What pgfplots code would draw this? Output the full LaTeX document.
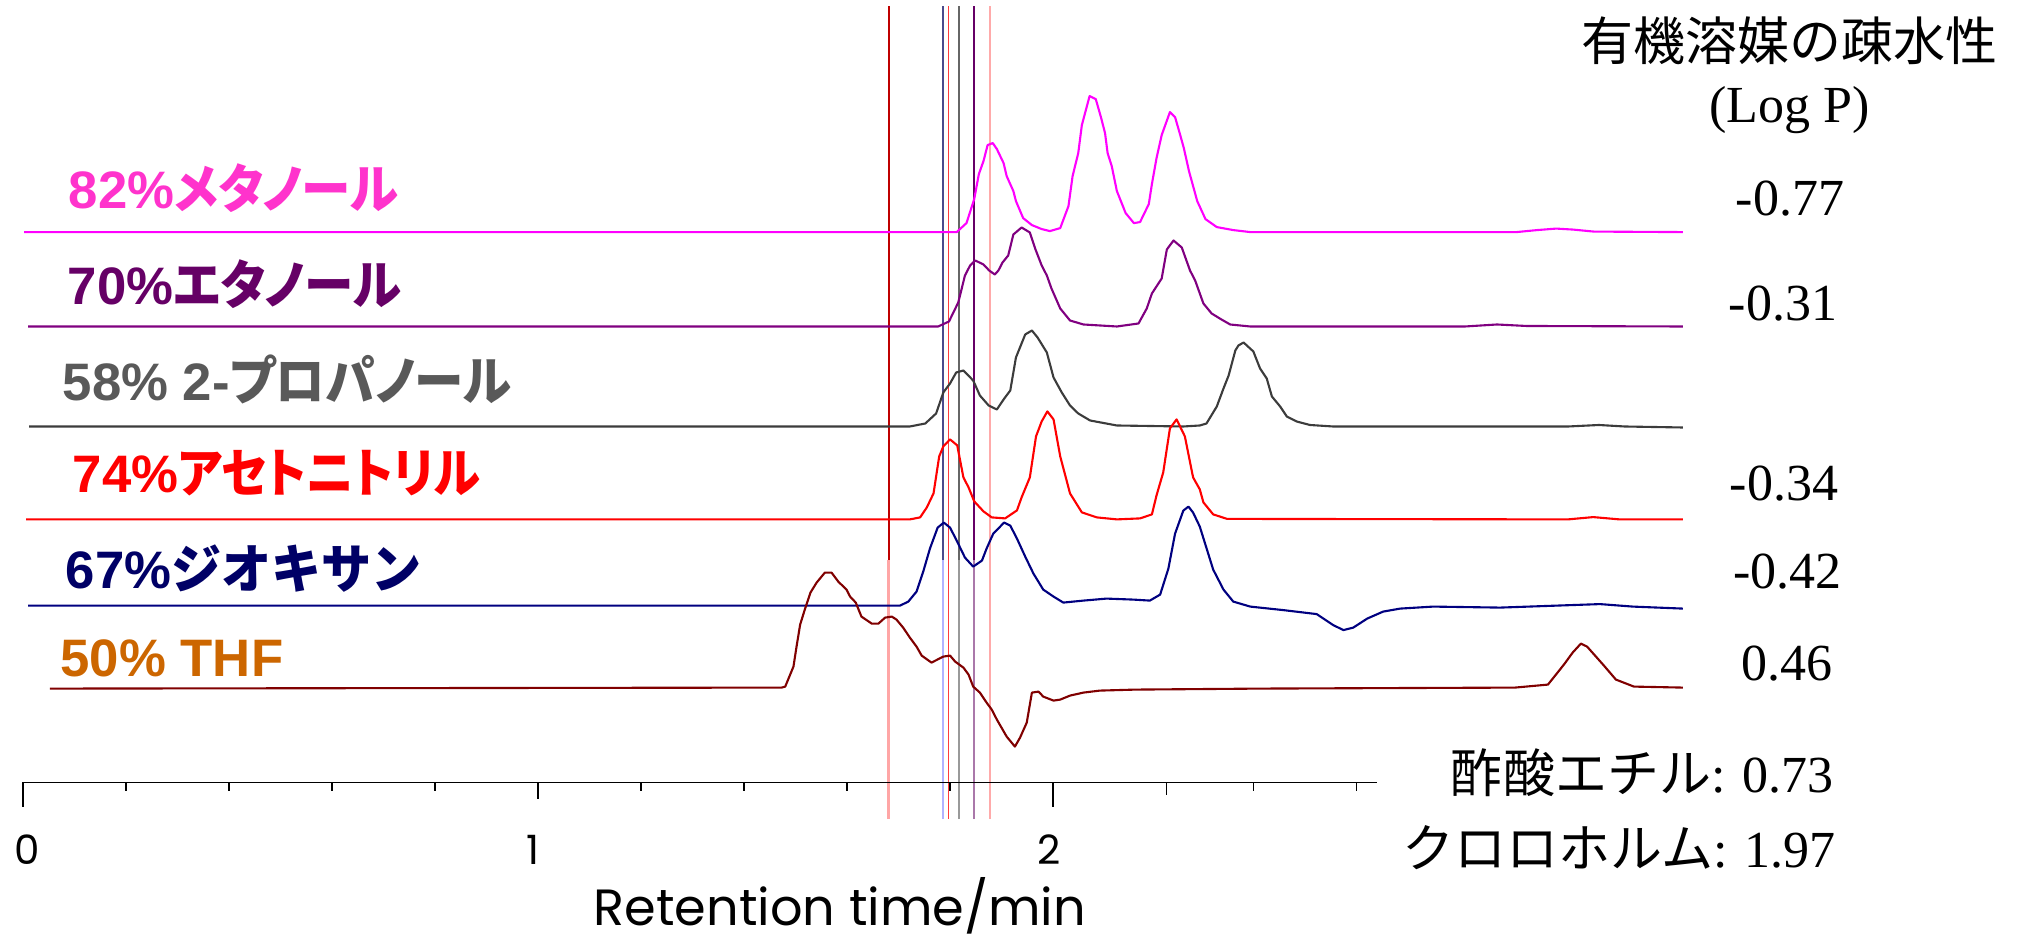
\documentclass[border=0pt]{standalone}
\usepackage{fontspec}
\usepackage{pgfplots}
\usepackage{pgfplotstable}
\pgfplotsset{compat=1.18}
\setmainfont{Liberation Serif}
\newfontfamily\jp{Noto Sans CJK JP}
\newfontfamily\jpp{Noto Sans CJK JP}[RawFeature=+palt, FakeStretch=0.94]
\newfontfamily\jpn{Noto Sans CJK JP}[RawFeature=+palt, FakeStretch=0.90]
\newfontfamily\jps{Noto Sans CJK JP}[FakeStretch=0.95]
\newfontfamily\ar{Liberation Sans}
\newfontfamily\pop{Poppins}

\definecolor{cMeth}{HTML}{FF00FF}
\definecolor{cEth}{HTML}{800080}
\definecolor{cProp}{HTML}{3C3C3C}
\definecolor{cAcn}{HTML}{FF0000}
\definecolor{cDiox}{HTML}{000080}
\definecolor{cThf}{HTML}{800000}
\definecolor{lMeth}{HTML}{FF33CC}
\definecolor{lEth}{HTML}{660066}
\definecolor{lProp}{HTML}{595959}
\definecolor{lAcn}{HTML}{FF0000}
\definecolor{lDiox}{HTML}{000066}
\definecolor{lThf}{HTML}{CC6600}

% retention time (min) vs. detector signal (relative, baseline = 0)
\pgfplotstableread{
t h
0.002 0
1.000 0
1.813 0
1.832 9
1.847 33
1.856 58
1.865 71
1.873 87
1.883 89
1.891 83
1.904 69
1.910 56
1.923 41
1.928 31
1.942 14
1.959 7
1.978 3
1.994 1
2.014 4
2.030 26
2.038 56
2.049 79
2.056 107
2.071 136
2.083 133
2.093 115
2.101 99
2.106 79
2.114 66
2.124 41
2.141 19
2.157 9
2.169 10
2.186 28
2.192 48
2.201 74
2.211 97
2.227 120
2.237 115
2.247 97
2.254 84
2.264 61
2.280 31
2.296 13
2.318 5
2.350 2
2.383 0
2.900 0
2.940 2
2.977 3.5
3.010 2.5
3.050 0.5
3.223 0
}\methanol

\pgfplotstableread{
t h
0.010 0
1.777 0
1.798 5
1.816 24
1.829 51
1.839 61
1.849 66
1.865 62
1.876 56
1.887 52
1.894 56
1.902 64
1.913 71
1.923 92
1.939 99
1.955 94
1.966 77
1.978 61
1.988 51
1.997 38
2.014 18
2.033 6
2.059 2
2.124 0
2.166 3
2.182 18
2.192 33
2.211 48
2.221 77
2.234 86
2.250 79
2.266 56
2.276 46
2.292 23
2.308 13
2.327 7
2.344 2
2.383 0
2.800 0
2.862 2
2.920 0.5
3.223 0
}\ethanol

\pgfplotstableread{
t h
0.012 0
1.722 0
1.752 3
1.773 13
1.787 34
1.800 43
1.812 54
1.826 56
1.845 46
1.858 31
1.875 21
1.891 17
1.904 27
1.917 36
1.928 69
1.946 92
1.959 96
1.970 89
1.988 74
2.001 49
2.017 34
2.033 21
2.049 13
2.072 6
2.124 1
2.253 0
2.285 1
2.298 3
2.318 20
2.331 38
2.341 51
2.354 76
2.360 81
2.370 84
2.389 75
2.402 58
2.415 48
2.425 30
2.441 20
2.454 10
2.473 5
2.499 1.5
2.544 0
3.000 0
3.060 1.5
3.110 0
3.223 -1
}\propanol

\pgfplotstableread{
t h
0.006 0
1.722 0
1.742 2
1.755 12
1.768 26
1.779 63
1.787 73
1.800 80
1.814 74
1.826 42
1.836 32
1.847 18
1.865 8
1.881 2
1.907 1
1.930 9
1.939 22
1.955 42
1.967 83
1.978 98
1.989 108
2.001 100
2.014 63
2.033 26
2.056 7
2.085 2
2.124 0
2.169 1
2.192 5
2.201 24
2.214 47
2.227 91
2.240 100
2.256 83
2.272 42
2.285 30
2.292 17
2.311 5
2.338 0.5
3.000 0
3.049 2.3
3.100 0
3.223 0
}\acetonitrile

\pgfplotstableread{
t h
0.010 0
1.703 0
1.719 4
1.735 14
1.748 34
1.761 57
1.776 78
1.788 83
1.800 78
1.813 65
1.829 48
1.845 39
1.862 45
1.871 57
1.884 72
1.905 83
1.917 80
1.930 67
1.946 49
1.962 32
1.981 16
2.001 9
2.020 3
2.059 5
2.104 7
2.156 6
2.188 5
2.208 11
2.224 37
2.237 72
2.253 95
2.263 99
2.272 93
2.285 79
2.311 36
2.331 16
2.350 4
2.383 -1
2.447 -4.5
2.512 -8.5
2.544 -19.5
2.564 -24.5
2.583 -22
2.610 -13
2.641 -6
2.674 -3
2.738 -1
2.868 -2
3.062 1.5
3.126 -1
3.223 -3
}\dioxane

\pgfplotstableread{
t h
0.052 0
1.473 1
1.480 2
1.496 22
1.502 42
1.509 64
1.518 79
1.529 96
1.541 106
1.557 116
1.570 116
1.583 107
1.599 99
1.606 92
1.617 86
1.628 72
1.648 65
1.661 65
1.674 71
1.687 72
1.696 69
1.709 61
1.722 51
1.735 42
1.745 33
1.764 26
1.787 32
1.800 33
1.810 27
1.826 21
1.836 14
1.845 2
1.858 -4
1.871 -14
1.881 -21
1.891 -31
1.910 -48
1.926 -58
1.936 -49
1.949 -34
1.959 -4
1.972 -3
1.981 -8
2.001 -12
2.014 -11
2.033 -7
2.059 -4
2.091 -2
2.160 -1
2.400 0
2.897 1
2.961 4
2.992 24
3.009 36
3.025 45
3.037 42
3.068 24
3.093 9
3.128 2
3.223 1
}\thf

\begin{document}
\begin{tikzpicture}
\begin{axis}[
  name=main,
  scale only axis, width=20.22cm, height=9.41cm,
  xmin=-0.04466, xmax=3.88155, ymin=0, ymax=941,
  axis lines=none, xtick=\empty, ytick=\empty, clip=false,
  every axis plot/.append style={no marks, line join=round},
]
% marker lines (dead times)
\addplot[color=red!25!pink!80!white, line width=0.9pt] coordinates {(1.681,122) (1.681,381)};
\addplot[color=red!75!black, line width=0.5pt] coordinates {(1.681,381) (1.681,935)};
\addplot[color=blue!30!white, line width=0.5pt] coordinates {(1.787,122) (1.787,381)};
\addplot[color={rgb,255:red,75;green,75;blue,140}, line width=0.5pt] coordinates {(1.787,381) (1.787,935)};
\addplot[color={rgb,255:red,255;green,60;blue,60}, line width=0.5pt] coordinates {(1.797,122) (1.797,935)};
\addplot[color=black!40, line width=0.5pt] coordinates {(1.818,122) (1.818,381)};
\addplot[color=black!60, line width=0.5pt] coordinates {(1.818,381) (1.818,935)};
\addplot[color={rgb,255:red,170;green,120;blue,170}, line width=0.5pt] coordinates {(1.847,122) (1.847,381)};
\addplot[color={rgb,255:red,102;green,0;blue,102}, line width=0.5pt] coordinates {(1.847,381) (1.847,935)};
\addplot[color={rgb,255:red,255;green,170;blue,170}, line width=0.6pt] coordinates {(1.878,122) (1.878,935)};

% chromatograms (offset baselines)
\addplot[color=cMeth, line width=0.6pt] table[x=t, y expr=\thisrow{h}+708.9] {\methanol};
\addplot[color=cEth, line width=0.6pt] table[x=t, y expr=\thisrow{h}+614.5] {\ethanol};
\addplot[color=cProp, line width=0.6pt] table[x=t, y expr=\thisrow{h}+514.5] {\propanol};
\addplot[color=cAcn, line width=0.6pt] table[x=t, y expr=\thisrow{h}+421.6] {\acetonitrile};
\addplot[color=cDiox, line width=0.6pt] table[x=t, y expr=\thisrow{h}+335.4] {\dioxane};
\addplot[color=cThf, line width=0.6pt] table[x=t, y expr=\thisrow{h}+252.4] {\thf};

% x axis
\draw[line width=0.45pt] (axis cs:0,158.7) -- (axis cs:2.629,158.7);
\draw[line width=0.45pt] (axis cs:0,158.7) -- (axis cs:0,133.7);
\draw[line width=0.45pt] (axis cs:1,158.7) -- (axis cs:1,141.7);
\draw[line width=0.45pt] (axis cs:2,158.7) -- (axis cs:2,133.7);
\draw[line width=0.35pt] (axis cs:0.2,158.7) -- (axis cs:0.2,149.7);
\draw[line width=0.35pt] (axis cs:0.4,158.7) -- (axis cs:0.4,149.7);
\draw[line width=0.35pt] (axis cs:0.6,158.7) -- (axis cs:0.6,149.7);
\draw[line width=0.35pt] (axis cs:0.8,158.7) -- (axis cs:0.8,149.7);
\draw[line width=0.35pt] (axis cs:1.2,158.7) -- (axis cs:1.2,149.7);
\draw[line width=0.35pt] (axis cs:1.4,158.7) -- (axis cs:1.4,149.7);
\draw[line width=0.35pt] (axis cs:1.6,158.7) -- (axis cs:1.6,149.7);
\draw[line width=0.35pt] (axis cs:1.8,158.7) -- (axis cs:1.8,149.7);
\draw[line width=0.35pt] (axis cs:2.22,158.7) -- (axis cs:2.22,145.7);
\draw[line width=0.35pt] (axis cs:2.39,158.7) -- (axis cs:2.39,149.7);
\draw[line width=0.35pt] (axis cs:2.59,158.7) -- (axis cs:2.59,149.7);

\node[inner sep=0pt, font=\pop\fontsize{11.5}{13}\selectfont] at (axis description cs:0.01335,0.0967) {0};
\node[inner sep=0pt, font=\pop\fontsize{11.5}{13}\selectfont] at (axis description cs:0.2636,0.0967) {1};
\node[inner sep=0pt, font=\pop\fontsize{11.5}{13}\selectfont] at (axis description cs:0.5188,0.0967) {2};
\node[inner sep=0pt, anchor=base, font=\pop\fontsize{14.5}{17}\selectfont] at (axis description cs:0.4154,0.0165) {Retention time/min};

% trace labels
\node[inner sep=0pt, anchor=base west, text=lMeth, font=\fontsize{15}{17}\selectfont\bfseries] at (axis description cs:0.03363,0.7779) {\ar 82\%\jpp メタノール};
\node[inner sep=0pt, anchor=base west, text=lEth, font=\fontsize{15}{17}\selectfont\bfseries] at (axis description cs:0.03314,0.6759) {\ar 70\%\jpp エタノール};
\node[inner sep=0pt, anchor=base west, text=lProp, font=\fontsize{15}{17}\selectfont\bfseries] at (axis description cs:0.03066,0.5749) {\ar 58\% 2-\jpp プロパノール};
\node[inner sep=0pt, anchor=base west, text=lAcn, font=\fontsize{15}{17}\selectfont\bfseries] at (axis description cs:0.03561,0.4761) {\ar 74\%\jpn アセトニトリル};
\node[inner sep=0pt, anchor=base west, text=lDiox, font=\fontsize{15}{17}\selectfont\bfseries] at (axis description cs:0.03215,0.3751) {\ar 67\%\jps ジオキサン};
\node[inner sep=0pt, anchor=base west, text=lThf, font=\fontsize{15}{17}\selectfont\bfseries] at (axis description cs:0.02967,0.2806) {\ar 50\% THF};

% right column: hydrophobicity (log P)
\node[inner sep=0pt, font=\jp\fontsize{14.8}{17}\selectfont] at (axis description cs:0.8848,0.957) {有機溶媒の疎水性};
\node[inner sep=0pt, anchor=base, font=\fontsize{14.8}{17}\selectfont] at (axis description cs:0.8850,0.8693) {(Log P)};
\node[inner sep=0pt, anchor=base, font=\fontsize{14.8}{17}\selectfont] at (axis description cs:0.8853,0.7705) {-0.77};
\node[inner sep=0pt, anchor=base, font=\fontsize{14.8}{17}\selectfont] at (axis description cs:0.8818,0.6589) {-0.31};
\node[inner sep=0pt, anchor=base, font=\fontsize{14.8}{17}\selectfont] at (axis description cs:0.8823,0.4676) {-0.34};
\node[inner sep=0pt, anchor=base, font=\fontsize{14.8}{17}\selectfont] at (axis description cs:0.8840,0.3751) {-0.42};
\node[inner sep=0pt, anchor=base, font=\fontsize{14.8}{17}\selectfont] at (axis description cs:0.8838,0.2763) {0.46};
\node[inner sep=0pt, anchor=base east, font=\fontsize{14.8}{17}\selectfont] at (axis description cs:0.9073,0.1583) {{\jp 酢酸エチル}: 0.73};
\node[inner sep=0pt, anchor=base east, font=\fontsize{14.8}{17}\selectfont] at (axis description cs:0.9083,0.0786) {{\jp クロロホルム}: 1.97};
\end{axis}
\pgfresetboundingbox
\useasboundingbox (main.south west) rectangle (main.north east);
\end{tikzpicture}
\end{document}
